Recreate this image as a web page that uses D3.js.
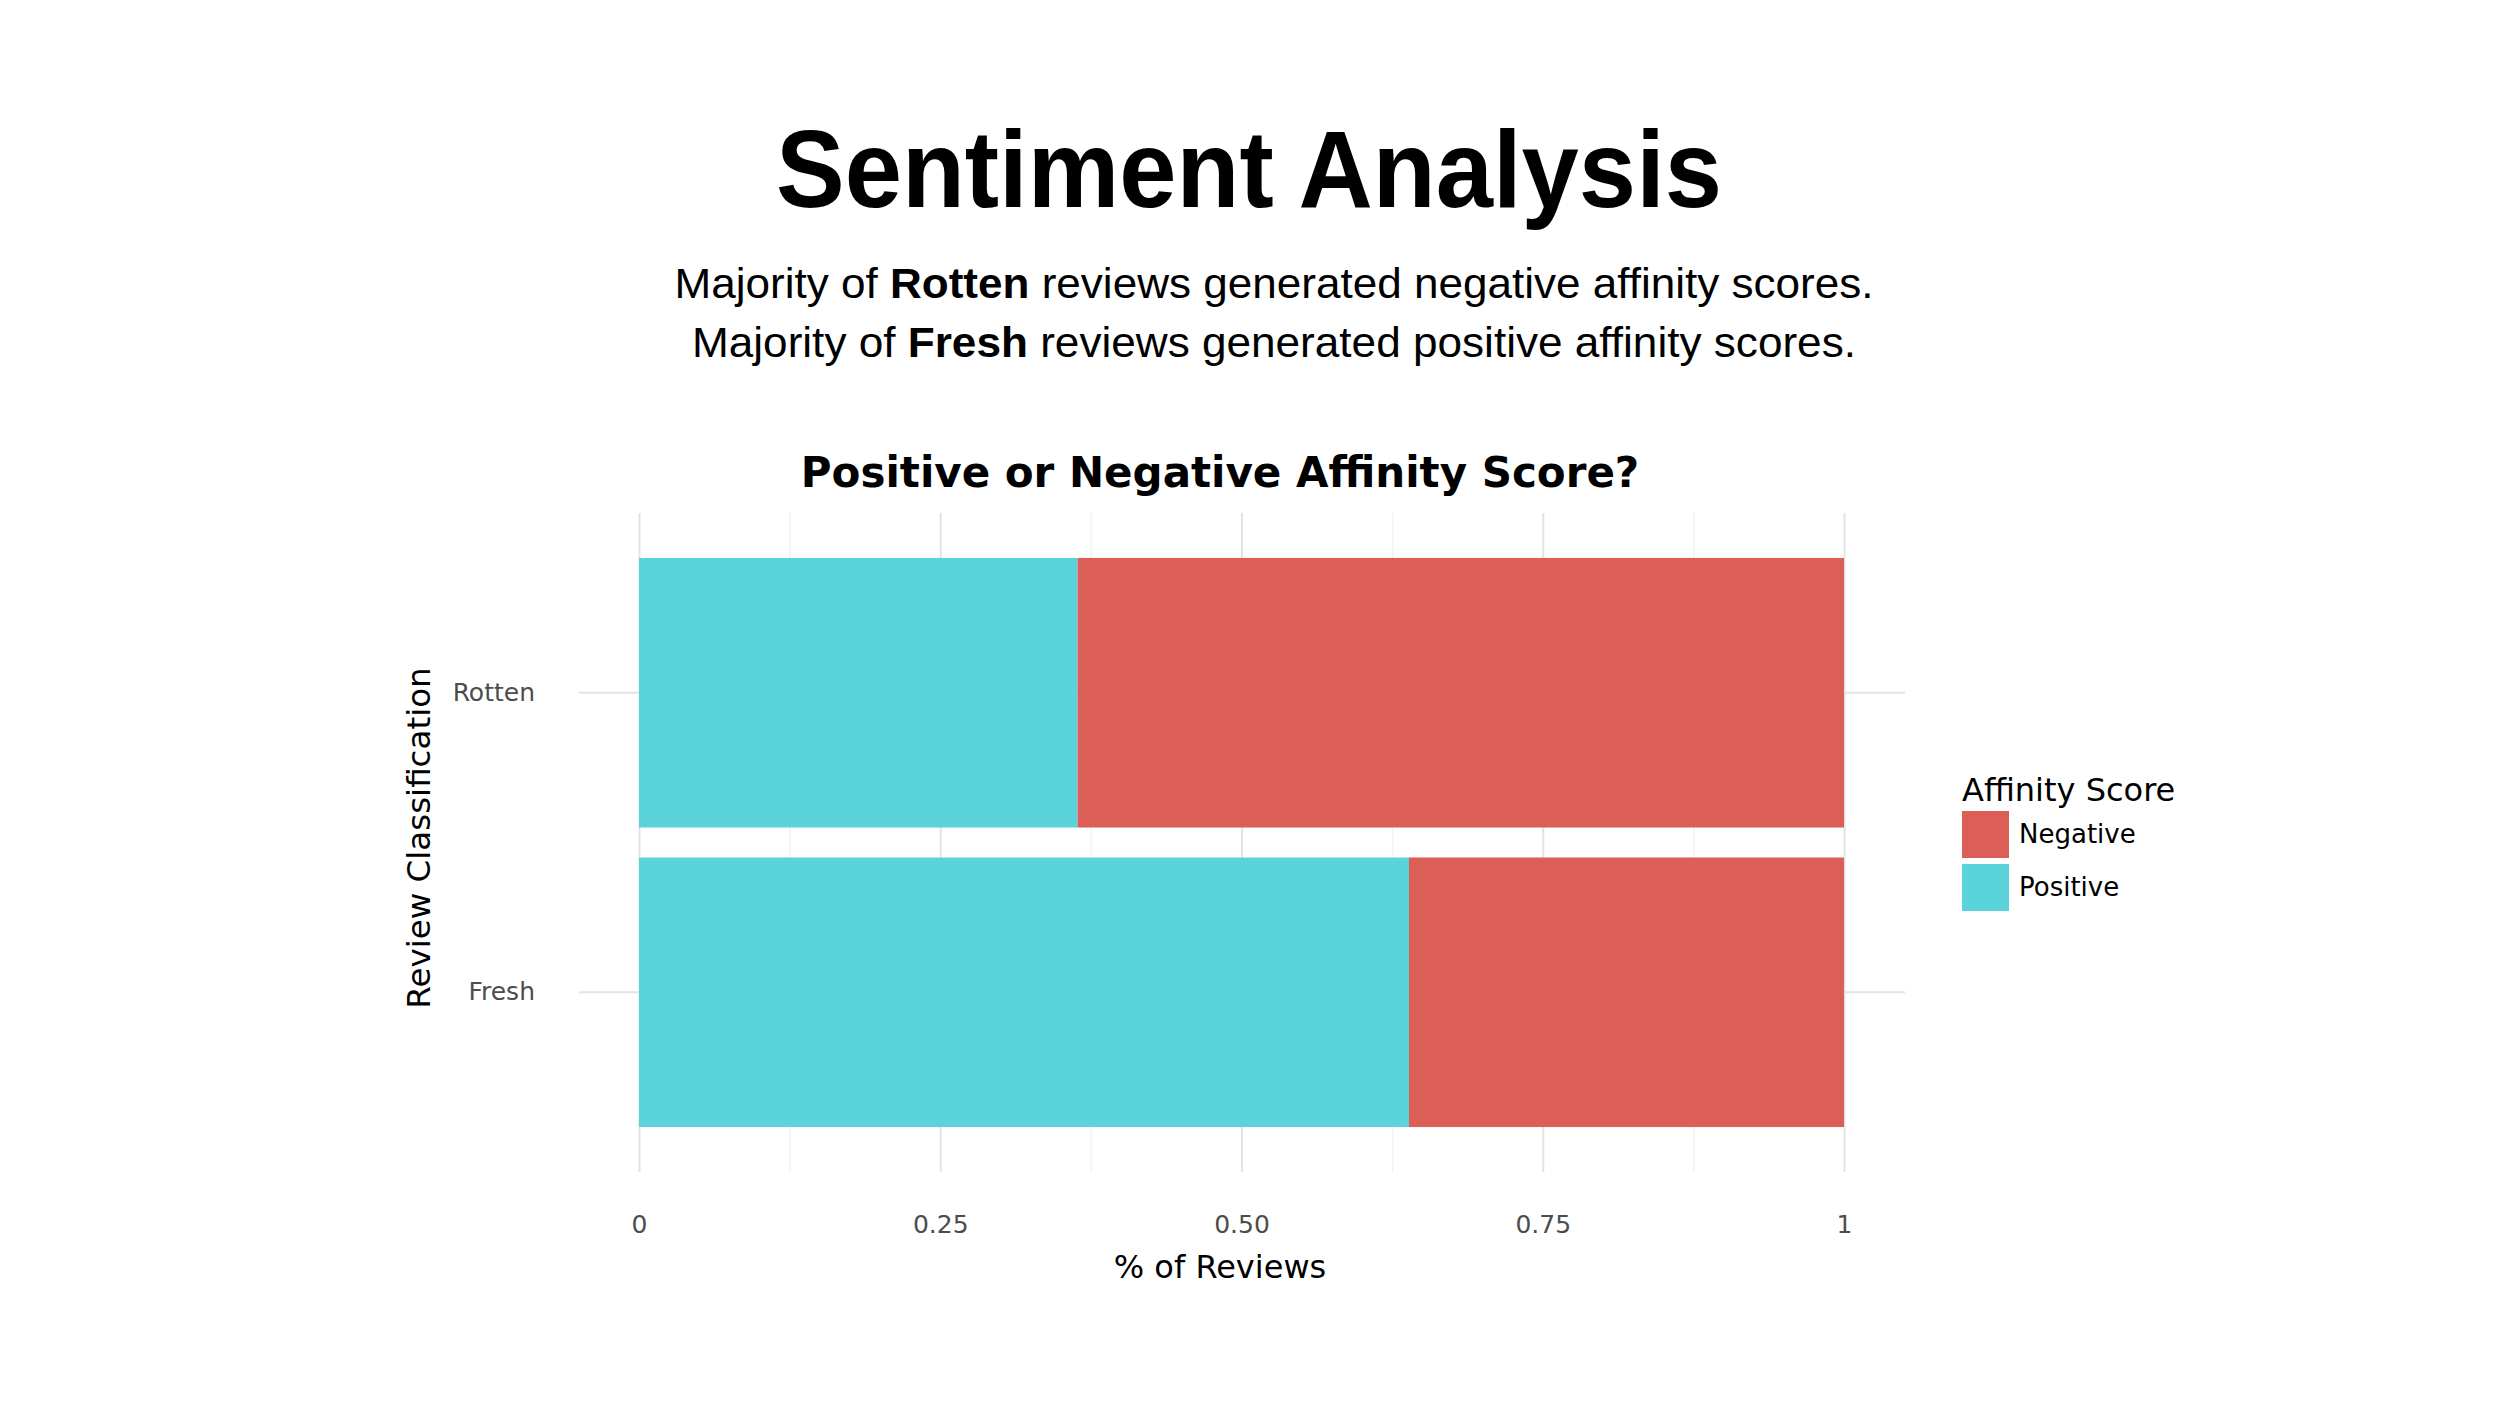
<!DOCTYPE html>
<html>
<head>
    <script src="https://cdnjs.cloudflare.com/ajax/libs/d3/7.8.5/d3.min.js"></script>
    <style>
        body { margin: 0; background: #fff; }
        text { font-family: "DejaVu Sans", sans-serif; }
        .headline { font-family: "Liberation Sans Narrow", "Liberation Sans", sans-serif; }
    </style>
</head>
<body>
    <div id="chart"></div>
    <script>
        // Data
        const categories = ["Rotten", "Fresh"];
        const positiveShare = [0.364, 0.639];
        const negativeShare = [0.636, 0.361];
        const seriesNames = ["Negative", "Positive"];
        const seriesColors = ["#DC5F57", "#5AD3DA"];
        const xTicks = [0, 0.25, 0.5, 0.75, 1];
        const xTickLabels = ["0", "0.25", "0.50", "0.75", "1"];
        const xMinorTicks = [0.125, 0.375, 0.625, 0.875];

        const width = 2500;
        const height = 1406;

        const svg = d3.select("#chart")
            .append("svg")
            .attr("width", width)
            .attr("height", height);

        // Panel geometry
        const panel = { left: 579, right: 1905, top: 513, bottom: 1172 };

        const x = d3.scaleLinear().domain([0, 1]).range([639, 1844]);
        const y = d3.scaleBand()
            .domain(categories)
            .range([panel.top, panel.bottom])
            .paddingInner(0.1)
            .paddingOuter(0.15);
        const color = d3.scaleOrdinal().domain(seriesNames).range(seriesColors);

        // Headline and subtitle
        svg.append("text")
            .attr("class", "headline")
            .attr("x", 1249).attr("y", 207)
            .attr("text-anchor", "middle")
            .attr("font-size", 110)
            .attr("font-weight", "bold")
            .attr("textLength", 946)
            .attr("lengthAdjust", "spacingAndGlyphs")
            .text("Sentiment Analysis");

        const subLines = [
            { pre: "Majority of ", key: "Rotten", post: " reviews generated negative affinity scores.", y: 298, len: 1199 },
            { pre: "Majority of ", key: "Fresh", post: " reviews generated positive affinity scores.", y: 357, len: 1164 }
        ];
        subLines.forEach(l => {
            const t = svg.append("text")
                .attr("class", "headline")
                .attr("x", 1274).attr("y", l.y)
                .attr("text-anchor", "middle")
                .attr("font-size", 43)
                .attr("textLength", l.len)
                .attr("lengthAdjust", "spacingAndGlyphs");
            t.append("tspan").text(l.pre);
            t.append("tspan").attr("font-weight", "bold").text(l.key);
            t.append("tspan").text(l.post);
        });

        // Chart title
        svg.append("text")
            .attr("x", 1220).attr("y", 487)
            .attr("text-anchor", "middle")
            .attr("font-size", 42)
            .attr("font-weight", "bold")
            .text("Positive or Negative Affinity Score?");

        // Gridlines
        const minorGrid = svg.append("g")
            .attr("transform", `translate(0,${panel.bottom})`)
            .call(d3.axisBottom(x).tickValues(xMinorTicks).tickSize(-(panel.bottom - panel.top)).tickFormat(""));
        minorGrid.select(".domain").remove();
        minorGrid.selectAll("line").attr("stroke", "#f2f2f2").attr("stroke-width", 1.5);

        const majorGrid = svg.append("g")
            .attr("transform", `translate(0,${panel.bottom})`)
            .call(d3.axisBottom(x).tickValues(xTicks).tickSize(-(panel.bottom - panel.top)).tickFormat(""));
        majorGrid.select(".domain").remove();
        majorGrid.selectAll("line").attr("stroke", "#e3e3e3").attr("stroke-width", 2);

        const yGrid = svg.append("g")
            .attr("transform", `translate(${panel.right},0)`)
            .call(d3.axisLeft(y).tickSize(panel.right - panel.left).tickFormat(""));
        yGrid.select(".domain").remove();
        yGrid.selectAll("line").attr("stroke", "#e3e3e3").attr("stroke-width", 2);

        // Stacked bars
        const rows = categories.map((c, i) => ({ cat: c, Positive: positiveShare[i], Negative: negativeShare[i] }));
        const stack = d3.stack().keys(["Positive", "Negative"]);
        const layers = stack(rows);

        svg.append("g")
            .selectAll("g")
            .data(layers)
            .join("g")
            .attr("fill", d => color(d.key))
            .selectAll("rect")
            .data(d => d)
            .join("rect")
            .attr("x", d => x(d[0]))
            .attr("width", d => x(d[1]) - x(d[0]))
            .attr("y", d => y(d.data.cat))
            .attr("height", y.bandwidth());

        // Axes labels
        const xAxis = svg.append("g")
            .attr("transform", "translate(0,1233)")
            .call(d3.axisBottom(x).tickValues(xTicks).tickFormat((d, i) => xTickLabels[i]).tickSize(0));
        xAxis.select(".domain").remove();
        xAxis.selectAll("text")
            .attr("y", 0).attr("dy", null)
            .attr("font-family", "DejaVu Sans")
            .attr("font-size", 25)
            .attr("fill", "#4d4d4d");

        const yAxis = svg.append("g")
            .attr("transform", "translate(535,0)")
            .call(d3.axisLeft(y).tickSize(0).tickPadding(0));
        yAxis.select(".domain").remove();
        yAxis.selectAll("text")
            .attr("font-family", "DejaVu Sans")
            .attr("font-size", 25)
            .attr("fill", "#4d4d4d");

        svg.append("text")
            .attr("x", 1220).attr("y", 1278)
            .attr("text-anchor", "middle")
            .attr("font-size", 32)
            .text("% of Reviews");

        svg.append("text")
            .attr("transform", "translate(430,838) rotate(-90)")
            .attr("text-anchor", "middle")
            .attr("font-size", 32.5)
            .text("Review Classification");

        // Legend
        const legend = svg.append("g").attr("transform", "translate(1962,0)");
        legend.append("text")
            .attr("x", 0).attr("y", 801)
            .attr("font-size", 32)
            .text("Affinity Score");
        const item = legend.selectAll(".item")
            .data(seriesNames)
            .join("g")
            .attr("class", "item")
            .attr("transform", (d, i) => `translate(0,${811 + i * 53})`);
        item.append("rect")
            .attr("width", 47).attr("height", 47)
            .attr("fill", d => color(d));
        item.append("text")
            .attr("x", 57).attr("y", 32)
            .attr("font-size", 26)
            .text(d => d);
    </script>
</body>
</html>
